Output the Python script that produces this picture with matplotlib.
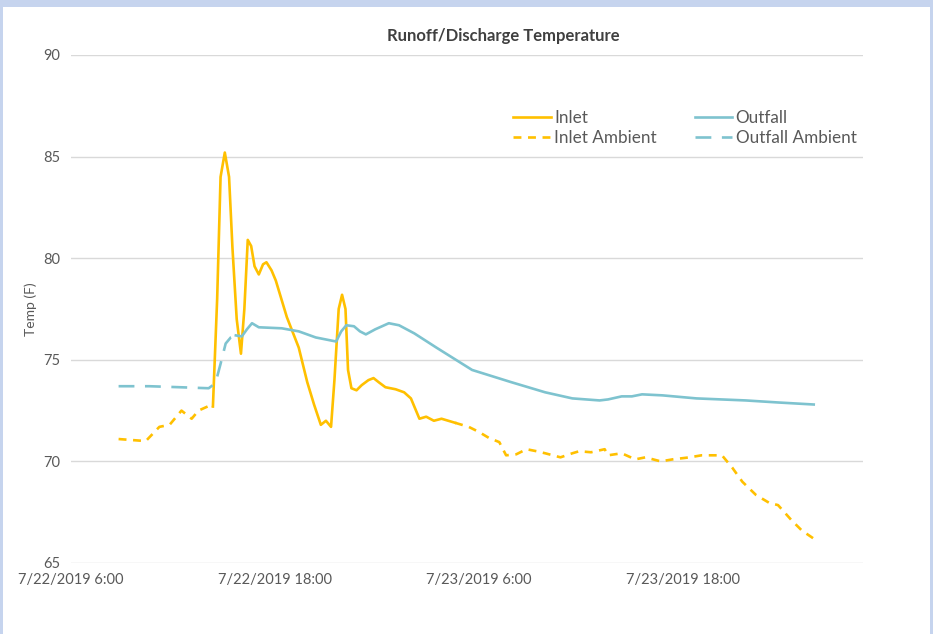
import matplotlib.pyplot as plt
import matplotlib.dates as mdates
import matplotlib.patches as mpatches
import numpy as np
import pandas as pd

START = pd.Timestamp('2019-07-22 06:00')

# hours after 7/22/2019 6:00, temperature (F)
inlet_amb_h = [2.8, 4.4, 5.2, 5.8, 6.5, 7.1, 7.5, 8.3, 8.35,
               np.nan,
               22.6, 23.4, 24.0, 24.6, 25.2, 25.6, 26.2, 26.8, 27.4, 27.9, 28.8, 29.5,
               29.9, 30.6, 31.4, 31.6, 32.4, 33.2, 33.8, 34.7, 35.4, 36.4, 37.1, 38.3,
               38.6, 38.9, 39.5, 40.3, 41.1, 41.6, 42.4, 43.0, 43.7]
inlet_amb_t = [71.1, 71.0, 71.7, 71.8, 72.5, 72.1, 72.5, 72.8, 72.7,
               np.nan,
               71.9, 71.7, 71.45, 71.15, 70.95, 70.3, 70.35, 70.6, 70.5, 70.4, 70.2, 70.4,
               70.5, 70.45, 70.6, 70.3, 70.4, 70.1, 70.2, 70.0, 70.1, 70.2, 70.3, 70.3,
               70.0, 69.7, 69.0, 68.35, 67.95, 67.85, 67.1, 66.6, 66.2]

inlet_h = [8.35, 8.6, 8.8, 9.05, 9.3, 9.5, 9.75, 10.0, 10.2, 10.4, 10.6, 10.8, 11.05,
           11.3, 11.5, 11.8, 12.05, 12.7, 13.4, 13.9, 14.3, 14.7, 15.0, 15.3, 15.5,
           15.75, 15.95, 16.15, 16.3, 16.5, 16.8, 17.1, 17.5, 17.8, 18.1, 18.5, 19.1,
           19.6, 20.0, 20.5, 20.9, 21.35, 21.8, 22.6]
inlet_t = [72.7, 78.0, 84.0, 85.2, 84.0, 80.5, 77.0, 75.3, 77.5, 80.9, 80.6, 79.6, 79.2,
           79.7, 79.8, 79.4, 78.9, 77.1, 75.6, 73.9, 72.8, 71.8, 72.0, 71.7, 74.0,
           77.5, 78.2, 77.5, 74.5, 73.6, 73.5, 73.75, 74.0, 74.1, 73.9, 73.65, 73.55,
           73.4, 73.1, 72.1, 72.2, 72.0, 72.1, 71.9]

outfall_amb_h = [2.8, 4.6, 6.4, 8.1, 8.5, 8.8, 9.1, 9.4, 9.7]
outfall_amb_t = [73.7, 73.7, 73.65, 73.6, 73.85, 74.8, 75.8, 76.1, 76.2]

outfall_h = [9.7, 10.05, 10.35, 10.65, 11.05, 12.4, 13.4, 14.4, 15.6, 15.9, 16.2, 16.65,
             17.0, 17.35, 17.9, 18.7, 19.3, 20.2, 21.5, 23.6, 25.9, 27.9, 29.5, 31.1,
             31.6, 32.4, 33.0, 33.6, 34.8, 36.8, 39.7, 41.6, 43.7]
outfall_t = [76.2, 76.15, 76.5, 76.8, 76.6, 76.55, 76.4, 76.1, 75.9, 76.4, 76.7, 76.65,
             76.4, 76.25, 76.5, 76.8, 76.7, 76.3, 75.6, 74.5, 73.9, 73.4, 73.1, 73.0,
             73.05, 73.2, 73.2, 73.3, 73.25, 73.1, 73.0, 72.9, 72.8]

tick_hours = [0, 12, 24, 36]
y_ticks = [65, 70, 75, 80, 85, 90]

YELLOW = '#FFC000'
TEAL = '#7EC3CF'
TEXT = '#595959'
FONT = ['Lato', 'DejaVu Sans']


def to_time(hours):
    return START + pd.to_timedelta(np.array(hours, dtype=float), unit='h')


def fmt_date(x, _):
    d = mdates.num2date(x)
    return f'{d.month}/{d.day}/{d.year} {d.hour}:{d.minute:02d}'


plt.rcParams['font.family'] = FONT

fig = plt.figure(figsize=(9.33, 6.34), dpi=100, facecolor='#C6D4EE')
fig.patches.append(mpatches.Rectangle((3 / 933, 0), 927 / 933, 627 / 634,
                                      transform=fig.transFigure, facecolor='white',
                                      edgecolor='none', zorder=-10))
ax = fig.add_axes([71 / 933, 1 - 563 / 634, 792 / 933, 508 / 634])
ax.set_facecolor('none')
ax.set_zorder(1)

lw = 1.9
ax.plot(to_time(inlet_h), inlet_t, color=YELLOW, lw=lw, label='Inlet',
        solid_joinstyle='round')
ax.plot(to_time(outfall_h), outfall_t, color=TEAL, lw=lw, label='Outfall',
        solid_joinstyle='round')
ax.plot(to_time(inlet_amb_h), inlet_amb_t, color=YELLOW, lw=lw,
        dashes=(3, 2.5), label='Inlet Ambient')
ax.plot(to_time(outfall_amb_h), outfall_amb_t, color=TEAL, lw=lw,
        dashes=(6, 4), label='Outfall Ambient')

ax.set_ylim(65, 90)
ax.set_yticks(y_ticks)
ax.set_xlim(to_time([0])[0], to_time([46.6])[0])
ax.set_xticks(to_time(tick_hours))
ax.xaxis.set_major_formatter(plt.FuncFormatter(fmt_date))

ax.grid(axis='y', color='#D9D9D9', lw=1)
ax.set_axisbelow(True)
for s in ax.spines.values():
    s.set_visible(False)
ax.tick_params(length=0, labelsize=10.5, colors=TEXT, pad=7)
ax.tick_params(axis='y', pad=8)
ax.set_ylabel('Temp (F)', fontsize=10, color=TEXT)
ax.yaxis.set_label_coords(-0.043, 0.5)

fig.text(503 / 933, 1 - 36 / 634, 'Runoff/Discharge Temperature', ha='center',
         va='center', fontsize=12, fontweight='bold', color='#404040')

handles, labels = ax.get_legend_handles_labels()
order = [0, 2, 1, 3]
ax.legend([handles[i] for i in order], [labels[i] for i in order], ncol=2,
          loc='upper left', bbox_to_anchor=(0.55, 0.905), frameon=False,
          fontsize=12.3, labelcolor=TEXT, handlelength=2.2, handletextpad=0.2,
          columnspacing=2.2, labelspacing=0.2, borderaxespad=0)

fig.savefig('out.png', dpi=100)
